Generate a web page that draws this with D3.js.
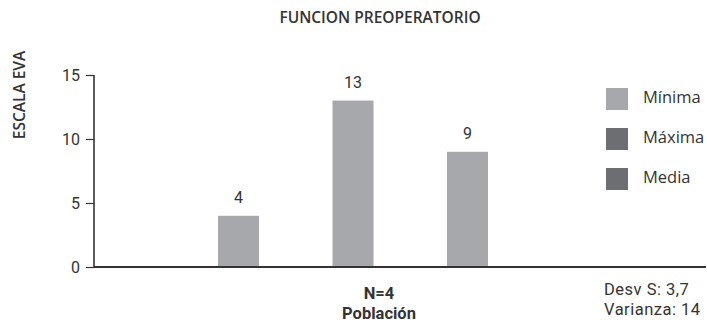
<!DOCTYPE html>
<html>
<head>
<meta charset="utf-8">
<script src="https://cdn.jsdelivr.net/npm/d3@7"></script>
<style>
  body { margin: 0; background: #fff; }
  svg { display: block; font-family: "Open Sans", "Noto Sans", sans-serif; }
</style>
</head>
<body>
<svg id="chart" width="707" height="327"></svg>
<script>
// Chart data
const categories = ["Mínima", "Máxima", "Media"];
const values = [4, 13, 9];
const yTicks = [0, 5, 10, 15];
const legendColors = ["#a7a8ab", "#6d6e71", "#6d6e71"];
const barColor = "#a7a8ab";
const title = "FUNCION PREOPERATORIO";
const yTitle = "ESCALA EVA";
const xTitle = ["N=4", "Población"];
const stats = ["Desv S: 3,7", "Varianza: 14"];

const svg = d3.select("#chart");
const ink = "#333334";
const barWidth = 41;

const x = d3.scalePoint().domain(categories).range([238.5, 467.5]);
const y = d3.scaleLinear().domain([0, 15]).range([267, 75]);

// Title
svg.append("text").attr("x", 380).attr("y", 23).attr("text-anchor", "middle")
  .attr("font-size", 15.5).attr("font-weight", 600).attr("fill", ink).text(title);

// Y axis title
svg.append("text").attr("transform", "translate(25,95) rotate(-90)")
  .attr("text-anchor", "middle").attr("font-size", 15.5).attr("font-weight", 600)
  .attr("fill", ink).text(yTitle);

// Bars
svg.selectAll("rect.bar").data(values).join("rect").attr("class", "bar")
  .attr("x", (d, i) => x(categories[i]) - barWidth / 2)
  .attr("width", barWidth)
  .attr("y", d => y(d))
  .attr("height", d => y(0) - y(d))
  .attr("fill", barColor);

// Value labels
svg.selectAll("text.val").data(values).join("text").attr("class", "val")
  .attr("x", (d, i) => x(categories[i]))
  .attr("y", d => y(d) - 13)
  .attr("text-anchor", "middle").attr("font-size", 16).attr("fill", ink)
  .attr("font-family", "Roboto, sans-serif")
  .text(d => d);

// Y axis
const yAxis = svg.append("g").attr("transform", "translate(94,0)")
  .call(d3.axisLeft(y).tickValues(yTicks).tickSize(8).tickPadding(6));
yAxis.select(".domain").attr("stroke", ink).attr("stroke-width", 1.6).attr("d", `M0,${y(15)}V${y(0)}`);
yAxis.selectAll(".tick line").attr("stroke", ink).attr("stroke-width", 1.2);
yAxis.selectAll(".tick text").attr("font-size", 16).attr("fill", ink)
  .attr("font-family", "Roboto, sans-serif");

// X baseline
svg.append("line").attr("x1", 94).attr("x2", 706).attr("y1", y(0)).attr("y2", y(0))
  .attr("stroke", ink).attr("stroke-width", 2);

// X axis title block (two lines)
const xt = svg.append("text").attr("text-anchor", "middle")
  .attr("font-family", "Roboto, sans-serif")
  .attr("font-size", 16.5).attr("font-weight", 700).attr("fill", ink);
xTitle.forEach((t, i) => {
  xt.append("tspan").attr("x", 379).attr("y", 299 + i * 19.5).text(t);
});

// Statistics block (two lines)
const st = svg.append("text").attr("font-family", "Roboto, sans-serif")
  .attr("font-size", 16.5).attr("letter-spacing", 0.5).attr("fill", ink);
stats.forEach((t, i) => {
  st.append("tspan").attr("x", 604).attr("y", 295 + i * 19.5).text(t);
});

// Legend
const legend = svg.append("g");
categories.forEach((c, i) => {
  legend.append("rect").attr("x", 606).attr("y", 88 + i * 40).attr("width", 22).attr("height", 22)
    .attr("fill", legendColors[i]);
  legend.append("text").attr("x", 643).attr("y", 103 + i * 40)
    .attr("font-size", 16.5).attr("fill", ink).text(c);
});
</script>
</body>
</html>
